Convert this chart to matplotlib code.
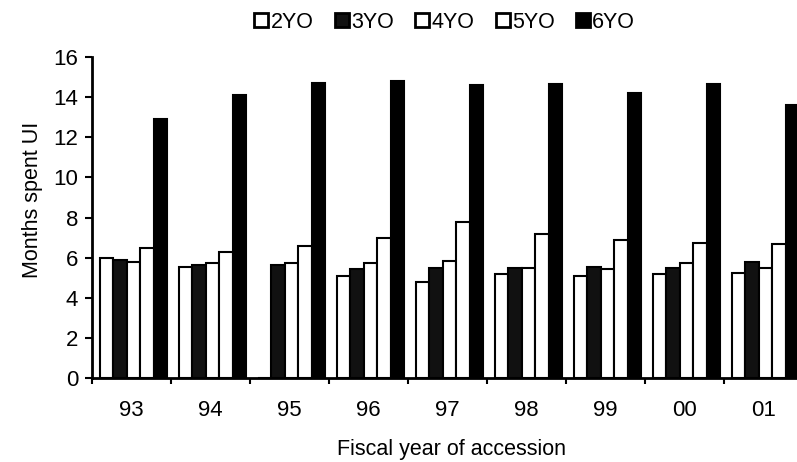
import numpy as np
import matplotlib
matplotlib.use("Agg")
import matplotlib.pyplot as plt
from matplotlib.patches import Patch

plt.rcParams['font.family'] = ['Liberation Sans', 'DejaVu Sans']

years = ['93', '94', '95', '96', '97', '98', '99', '00', '01']
series_names = ['2YO', '3YO', '4YO', '5YO', '6YO']
yo2 = [6.0, 5.55, 0.0, 5.1, 4.8, 5.2, 5.1, 5.2, 5.25]
yo3 = [5.9, 5.65, 5.65, 5.45, 5.5, 5.5, 5.55, 5.5, 5.8]
yo4 = [5.8, 5.75, 5.75, 5.75, 5.85, 5.5, 5.45, 5.75, 5.5]
yo5 = [6.5, 6.3, 6.6, 7.0, 7.8, 7.2, 6.9, 6.75, 6.7]
yo6 = [12.9, 14.1, 14.7, 14.8, 14.6, 14.65, 14.2, 14.65, 13.6]
series = [yo2, yo3, yo4, yo5, yo6]
fills = ['white', '#111111', 'white', 'white', 'black']

fig = plt.figure(figsize=(7.97, 4.62), dpi=100)
ax = fig.add_axes([92/797, 1-378/462, 711/797, 321/462])

x = np.arange(len(years))
w = 0.172
for k, (vals, fc) in enumerate(zip(series, fills)):
    ax.bar(x + (k - 2) * w + 0.025, vals, width=w, color=fc,
           edgecolor='black', linewidth=1.5, label=series_names[k])

ax.set_xlim(-0.5, len(years) - 0.5)
ax.set_ylim(0, 16)
ax.set_yticks(np.arange(0, 17, 2))
ax.tick_params(axis='y', direction='out', length=5, width=1.5, pad=5, labelsize=16)

ax.set_xticks(np.arange(-0.5, len(years), 1.0))
ax.set_xticklabels([])
ax.set_xticks(x, minor=True)
ax.set_xticklabels(years, minor=True)
ax.tick_params(axis='x', which='major', direction='out', length=4, width=1.5)
ax.tick_params(axis='x', which='minor', length=0, pad=16, labelsize=16)

for s in ['top', 'right']:
    ax.spines[s].set_visible(False)
for s in ['left', 'bottom']:
    ax.spines[s].set_linewidth(2)

ax.set_ylabel('Months spent UI', fontsize=15.5, va='center')
ax.yaxis.set_label_coords(-0.084, 0.555)
ax.set_xlabel('Fiscal year of accession', fontsize=15.5, va='center')
ax.xaxis.set_label_coords(0.505, -0.224)

handles = [Patch(facecolor=fc, edgecolor='black', linewidth=2) for fc in fills]
fig.legend(handles, series_names, loc='center', bbox_to_anchor=(0.558, 0.952),
           ncol=5, frameon=False, fontsize=15.5, handlelength=0.65, handleheight=0.65,
           handletextpad=0.1, columnspacing=1.0)

fig.savefig('out.png', dpi=100)
